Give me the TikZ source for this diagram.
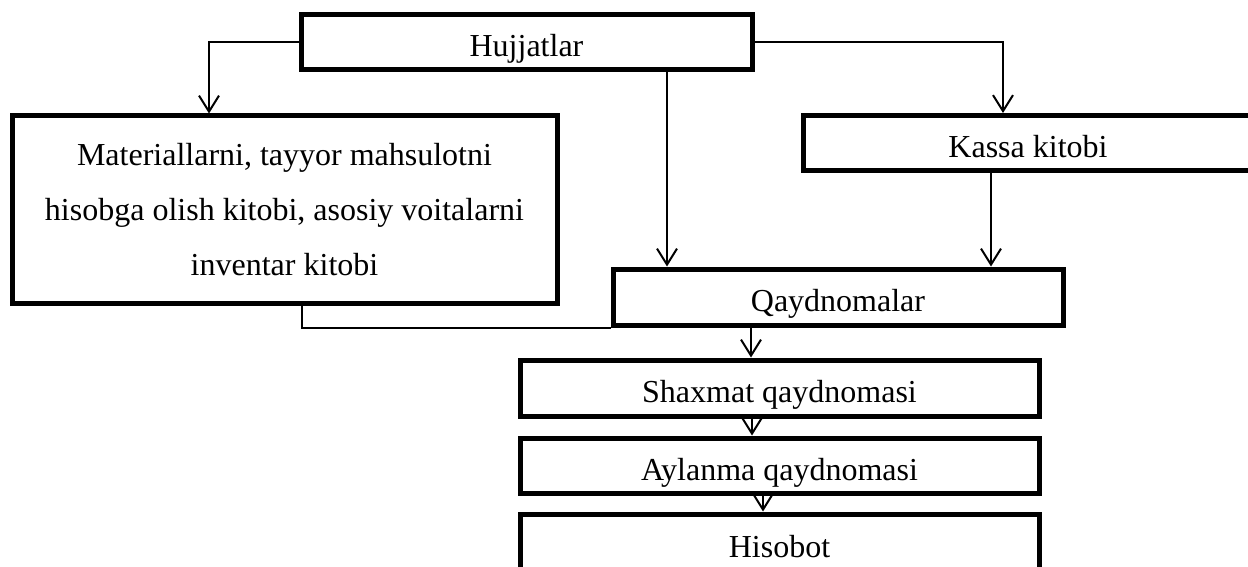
\documentclass[tikz,border=0pt]{standalone}
\usepackage{fontspec}
\setmainfont{Liberation Serif}
\usetikzlibrary{arrows.meta}

\begin{document}
\begin{tikzpicture}[x=0.5pt,y=-0.5pt,
  blok/.style={draw, line width=2.5pt, inner sep=0pt, font=\fontsize{16}{27.5}\selectfont},
  bir/.style={blok, text height=14.6pt, text depth=0pt},
  strelka/.style={line width=1pt, -{Straight Barb[length=8pt,width=10pt]}}]
 \useasboundingbox (0,0) rectangle (1248,567);
 \clip (0,0) rectangle (1248,567);
 % bloklar
 \node (hujjat) [bir, minimum width=225.5pt, minimum height=27.5pt] at (526.5,42) {Hujjatlar};
 \node (kitob) [blok, align=center, minimum width=272.5pt, minimum height=93.5pt] at (284.5,209.5)
   {Materiallarni, tayyor mahsulotni\\hisobga olish kitobi, asosiy voitalarni\\inventar kitobi};
 \node (kassa) [bir, minimum width=225pt, minimum height=27.5pt] at (1028,143) {Kassa kitobi};
 \node (qayd) [bir, minimum width=225pt, minimum height=28pt] at (838,297) {Qaydnomalar};
 \node (shaxmat) [bir, minimum width=259.5pt, minimum height=28pt] at (779.5,388) {Shaxmat qaydnomasi};
 \node (aylanma) [bir, minimum width=259.5pt, minimum height=27.5pt] at (779.5,465.5) {Aylanma qaydnomasi};
 \node (hisobot) [bir, minimum width=259.5pt, minimum height=29pt] at (779.5,543) {Hisobot};
 % strelkalar
 \draw[strelka] (hujjat.west) -| ([xshift=99.75pt]kitob.north west);
 \draw[strelka] (hujjat.east) -| ([xshift=-12.5pt]kassa.north);
 \draw[strelka] ([xshift=70.25pt]hujjat.south) -- ([xshift=70.25pt]hujjat.south |- qayd.north);
 \draw[strelka] ([xshift=-18.5pt]kassa.south) -- ([xshift=-18.5pt]kassa.south |- qayd.north);
 \draw[line width=1pt] ([xshift=8.75pt]kitob.south) |- (qayd.south west);
 \draw[strelka] ([xshift=-43.5pt]qayd.south) -- ([xshift=-43.5pt]qayd.south |- shaxmat.north);
 \draw[strelka] ([xshift=-13.75pt]shaxmat.south) -- ([xshift=-13.75pt]shaxmat.south |- aylanma.north);
 \draw[strelka] ([xshift=-8.25pt]aylanma.south) -- ([xshift=-8.25pt]aylanma.south |- hisobot.north);
\end{tikzpicture}
\end{document}
